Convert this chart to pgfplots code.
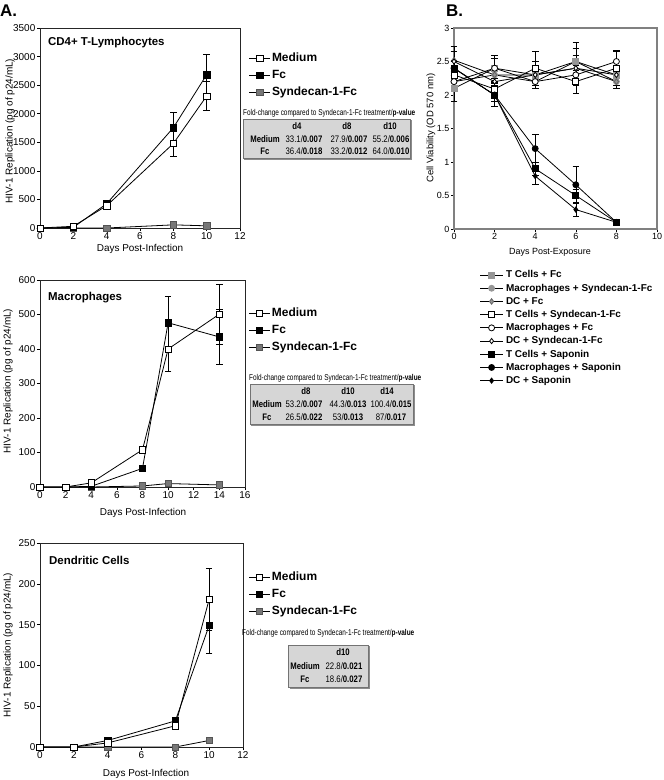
\documentclass[border=0pt]{standalone}
\usepackage{pgfplots}
\pgfplotsset{compat=1.18}
\usepackage{fontspec}
\setmainfont{Liberation Sans}
\newfontfamily\condfont{Liberation Sans}[FakeStretch=0.82]
\newfontfamily\capfont{Liberation Sans}[FakeStretch=0.76]
\definecolor{synd}{RGB}{120,120,120}
\definecolor{lgray}{RGB}{150,150,150}
\definecolor{tabfill}{RGB}{214,214,214}
\pgfplotsset{
  panel/.style={scale only axis, anchor=south west, clip=false,
    axis line style={black!85, line width=0.8bp},
    tick align=outside, xtick pos=left, ytick pos=left,
    major tick length=3bp, tick style={black, line width=0.6bp},
    ticklabel style={font=\fontsize{10}{11}\selectfont, inner sep=1.5bp},
    /pgf/number format/assume math mode=true,
    /pgf/number format/1000 sep={},
    legend cell align=left,
    legend image code/.code={\draw[mark repeat=2,mark phase=2] plot coordinates {(0bp,0bp) (10.5bp,0bp) (21bp,0bp)};},
    legend style={draw=none, fill=none, inner sep=0pt,
      font=\fontsize{12}{13}\selectfont\bfseries,
      nodes={inner xsep=1.5bp, inner ysep=3bp, text height=8.5bp, text depth=2.5bp}},
  },
  eb/.style={error bars/y dir=both, error bars/y explicit,
    error bars/error bar style={line width=0.6bp, black},
    error bars/error mark options={rotate=90, mark size=3.3bp, line width=0.6bp, black}},
  ln/.style={black, line width=0.8bp},
  med/.style={ln, mark=square*, mark size=3.2bp, mark options={fill=white, draw=black, line width=0.6bp}},
  fcs/.style={ln, mark=square*, mark size=3.2bp, mark options={fill=black, draw=black, line width=0.6bp}},
  syn/.style={ln, mark=square*, mark size=3.2bp, mark options={fill=synd, draw=synd!70!black, line width=0.6bp}},
}
\begin{document}
\begin{tikzpicture}
\useasboundingbox (0,0) rectangle (664bp,-780bp);

% ---------------- Panel A1: CD4+ T-Lymphocytes
\begin{axis}[panel, at={(40bp,-228bp)}, width=200bp, height=200bp,
  xmin=0, xmax=12, ymin=0, ymax=3500,
  xtick={0,2,4,6,8,10,12}, ytick={0,500,1000,1500,2000,2500,3000,3500}, reverse legend,
  legend style={at={(axis description cs:1.0425,0.8925)}, anchor=north west}]
\addplot[syn, eb] table[x=x, y=y, y error=e] {
x y e
0 0 0
2 0 0
4 0 0
8 55 0
10 38 0
};
\addlegendentry{Syndecan-1-Fc}
\addplot[fcs, eb] table[x=x, y=y, y error=e] {
x y e
0 0 0
2 12 0
4 425 0
8 1755 262
10 2683 365
};
\addlegendentry{Fc}
\addplot[med, eb] table[x=x, y=y, y error=e] {
x y e
0 0 0
2 30 0
4 390 0
8 1478 220
10 2310 255
};
\addlegendentry{Medium}
\end{axis}

% ---------------- Panel A2: Macrophages
\begin{axis}[panel, at={(40bp,-487bp)}, width=205bp, height=207bp,
  xmin=0, xmax=16, ymin=0, ymax=600,
  xtick={0,2,4,6,8,10,12,14,16}, ytick={0,100,200,300,400,500,600}, reverse legend,
  legend style={at={(axis description cs:1.017,0.8816)}, anchor=north west}]
\addplot[syn, eb] table[x=x, y=y, y error=e] {
x y e
0 0 0
2 0 0
4 0 0
8 3 0
10 10 0
14 6 0
};
\addlegendentry{Syndecan-1-Fc}
\addplot[fcs, eb] table[x=x, y=y, y error=e] {
x y e
0 0 0
2 0 0
4 2 0
8 54 0
10 476 77
14 435 80
};
\addlegendentry{Fc}
\addplot[med, eb] table[x=x, y=y, y error=e] {
x y e
0 0 0
2 0 0
4 12 0
8 108 0
10 400 66
14 501 88
};
\addlegendentry{Medium}
\end{axis}

% ---------------- Panel A3: Dendritic Cells
\begin{axis}[panel, at={(40bp,-747bp)}, width=203bp, height=204bp,
  xmin=0, xmax=12, ymin=0, ymax=250,
  xtick={0,2,4,6,8,10,12}, ytick={0,50,100,150,200,250}, reverse legend,
  legend style={at={(axis description cs:1.027,0.875)}, anchor=north west}]
\addplot[syn, eb] table[x=x, y=y, y error=e] {
x y e
0 0 0
2 0 0
4 0 0
8 0 0
10 8 0
};
\addlegendentry{Syndecan-1-Fc}
\addplot[fcs, eb] table[x=x, y=y, y error=e] {
x y e
0 0 0
2 0 0
4 8 0
8 32 0
10 149 34
};
\addlegendentry{Fc}
\addplot[med, eb] table[x=x, y=y, y error=e] {
x y e
0 0 0
2 0 0
4 5 0
8 26 0
10 181 38
};
\addlegendentry{Medium}
\end{axis}

% ---------------- Panel B: Cell viability
\begin{axis}[panel, at={(454bp,-229bp)}, width=203bp, height=201bp,
  axis line style={black!50, line width=1.3bp},
  xmin=0, xmax=10, ymin=0, ymax=3,
  xtick={0,2,4,6,8,10}, ytick={0,0.5,1,1.5,2,2.5,3},
  ticklabel style={font=\fontsize{9}{10}\selectfont},
  legend image code/.code={\draw[mark repeat=2,mark phase=2] plot coordinates {(0bp,0bp) (11.5bp,0bp) (23bp,0bp)};},
  legend style={at={(axis description cs:0.1256,-0.1953)}, anchor=north west,
    font=\fontsize{10}{11}\selectfont\bfseries,
    nodes={inner xsep=2.5bp, inner ysep=1.85bp, text height=7.5bp, text depth=2bp}}]
\addplot[ln, eb, mark=square*, mark size=3bp, mark options={fill=lgray, draw=lgray}] table[x=x, y=y, y error=e] {
x y e
0 2.10 0.20
2 2.40 0.20
4 2.30 0.15
6 2.50 0.28
8 2.30 0.15
};
\addlegendentry{T Cells + Fc}
\addplot[ln, eb, mark=*, mark size=3bp, mark options={fill=lgray, draw=lgray}] table[x=x, y=y, y error=e] {
x y e
0 2.20 0.15
2 2.30 0.15
4 2.20 0.10
6 2.50 0.20
8 2.20 0.10
};
\addlegendentry{Macrophages + Syndecan-1-Fc}
\addplot[ln, eb, mark=diamond*, mark size=2.8bp, mark options={fill=lgray, draw=black!60}] table[x=x, y=y, y error=e] {
x y e
0 2.52 0.20
2 2.30 0.25
4 2.30 0.20
6 2.40 0.15
8 2.20 0.10
};
\addlegendentry{DC + Fc}
\addplot[ln, eb, mark=square*, mark size=3bp, mark options={fill=white, draw=black}] table[x=x, y=y, y error=e] {
x y e
0 2.30 0.10
2 2.09 0.10
4 2.40 0.25
6 2.20 0.17
8 2.40 0.25
};
\addlegendentry{T Cells + Syndecan-1-Fc}
\addplot[ln, eb, mark=*, mark size=3bp, mark options={fill=white, draw=black}] table[x=x, y=y, y error=e] {
x y e
0 2.20 0.10
2 2.40 0.15
4 2.20 0.10
6 2.30 0.15
8 2.50 0.17
};
\addlegendentry{Macrophages + Fc}
\addplot[ln, eb, mark=diamond*, mark size=2.6bp, mark options={fill=white, draw=black}] table[x=x, y=y, y error=e] {
x y e
0 2.50 0.15
2 2.20 0.10
4 2.30 0.15
6 2.40 0.20
8 2.30 0.15
};
\addlegendentry{DC + Syndecan-1-Fc}
\addplot[ln, eb, mark=square*, mark size=3bp, mark options={fill=black, draw=black}] table[x=x, y=y, y error=e] {
x y e
0 2.40 0.12
2 2.00 0.17
4 0.90 0.10
6 0.50 0.10
8 0.10 0.02
};
\addlegendentry{T Cells + Saponin}
\addplot[ln, eb, mark=*, mark size=3bp, mark options={fill=black, draw=black}] table[x=x, y=y, y error=e] {
x y e
0 2.40 0.10
2 2.00 0.10
4 1.20 0.21
6 0.66 0.28
8 0.10 0.02
};
\addlegendentry{Macrophages + Saponin}
\addplot[ln, eb, mark=diamond*, mark size=2.6bp, mark options={fill=black, draw=black}] table[x=x, y=y, y error=e] {
x y e
0 2.40 0.10
2 2.00 0.10
4 0.79 0.13
6 0.29 0.10
8 0.10 0.02
};
\addlegendentry{DC + Saponin}
\end{axis}

% ---------------- Texts and tables
\begin{scope}[x=1bp, y=-1bp]
\node[font=\fontsize{17}{18}\selectfont\bfseries, anchor=west, inner sep=0pt] at (0,11) {A.};
\node[font=\fontsize{17}{18}\selectfont\bfseries, anchor=west, inner sep=0pt] at (446,11) {B.};

\node[font=\fontsize{11.5}{12}\selectfont\bfseries, anchor=west, inner sep=0pt] at (48,43) {CD4+ T-Lymphocytes};
\node[font=\fontsize{11.5}{12}\selectfont\bfseries, anchor=west, inner sep=0pt] at (48,298) {Macrophages};
\node[font=\fontsize{11.5}{12}\selectfont\bfseries, anchor=west, inner sep=0pt] at (49,560) {Dendritic Cells};

\node[font=\fontsize{10}{11}\selectfont, inner sep=0pt] at (140,249) {Days Post-Infection};
\node[font=\fontsize{10}{11}\selectfont, inner sep=0pt] at (143,513) {Days Post-Infection};
\node[font=\fontsize{10}{11}\selectfont, inner sep=0pt] at (146,774) {Days Post-Infection};
\node[font=\fontsize{10}{11}\selectfont, inner sep=0pt, rotate=90] at (10,131) {HIV-1 Replication (pg of p24/mL)};
\node[font=\fontsize{10}{11}\selectfont, inner sep=0pt, rotate=90] at (8,381) {HIV-1 Replication (pg of p24/mL)};
\node[font=\fontsize{10}{11}\selectfont, inner sep=0pt, rotate=90] at (8,645) {HIV-1 Replication (pg of p24/mL)};

\node[font=\fontsize{9}{10}\selectfont, inner sep=0pt] at (550,252) {Days Post-Exposure};
\node[font=\fontsize{9.5}{10}\selectfont, inner sep=0pt, rotate=90] at (431,128) {Cell Viability (OD 570 nm)};

% table 1
\node[font=\capfont\fontsize{8.5}{9}\selectfont, anchor=west, inner sep=0pt] at (243,113) {Fold-change compared to Syndecan-1-Fc treatment/\textbf{p-value}};
\fill[black!45] (244,120) rectangle (412,160);
\fill[tabfill] (243,119) rectangle (410,158);
\draw[black!55, line width=0.7bp] (243,119) rectangle (410,158);
\begin{scope}[every node/.style={font=\condfont\fontsize{9.5}{10}\selectfont, inner sep=0pt}]
\node at (297,126) {\bfseries d4};
\node at (347,126) {\bfseries d8};
\node at (390,126) {\bfseries d10};
\node at (265,139) {\bfseries Medium};
\node at (304,139) {33.1/\textbf{0.007}};
\node at (349,139) {27.9/\textbf{0.007}};
\node at (391,139) {55.2/\textbf{0.006}};
\node at (265,151) {\bfseries Fc};
\node at (304,151) {36.4/\textbf{0.018}};
\node at (349,151) {33.2/\textbf{0.012}};
\node at (391,151) {64.0/\textbf{0.010}};
\end{scope}

% table 2
\node[font=\capfont\fontsize{8.5}{9}\selectfont, anchor=west, inner sep=0pt] at (249,378) {Fold-change compared to Syndecan-1-Fc treatment/\textbf{p-value}};
\fill[black!45] (251,385) rectangle (415,426);
\fill[tabfill] (250,384) rectangle (413,424);
\draw[black!55, line width=0.7bp] (250,384) rectangle (413,424);
\begin{scope}[every node/.style={font=\condfont\fontsize{9.5}{10}\selectfont, inner sep=0pt}]
\node at (306,391) {\bfseries d8};
\node at (348,391) {\bfseries d10};
\node at (387,391) {\bfseries d14};
\node at (267,404) {\bfseries Medium};
\node at (304,404) {53.2/\textbf{0.007}};
\node at (348,404) {44.3/\textbf{0.013}};
\node at (391,404) {100.4/\textbf{0.015}};
\node at (267,417) {\bfseries Fc};
\node at (304,417) {26.5/\textbf{0.022}};
\node at (348,417) {53/\textbf{0.013}};
\node at (391,417) {87/\textbf{0.017}};
\end{scope}

% table 3
\node[font=\capfont\fontsize{8.5}{9}\selectfont, anchor=west, inner sep=0pt] at (242,633) {Fold-change compared to Syndecan-1-Fc treatment/\textbf{p-value}};
\fill[black!45] (290,646) rectangle (370,689);
\fill[tabfill] (288,645) rectangle (368,687);
\draw[black!55, line width=0.7bp] (288,645) rectangle (368,687);
\begin{scope}[every node/.style={font=\condfont\fontsize{9.5}{10}\selectfont, inner sep=0pt}]
\node at (343,652) {\bfseries d10};
\node at (305,666) {\bfseries Medium};
\node at (344,666) {22.8/\textbf{0.021}};
\node at (305,679) {\bfseries Fc};
\node at (344,679) {18.6/\textbf{0.027}};
\end{scope}
\end{scope}
\end{tikzpicture}
\end{document}
